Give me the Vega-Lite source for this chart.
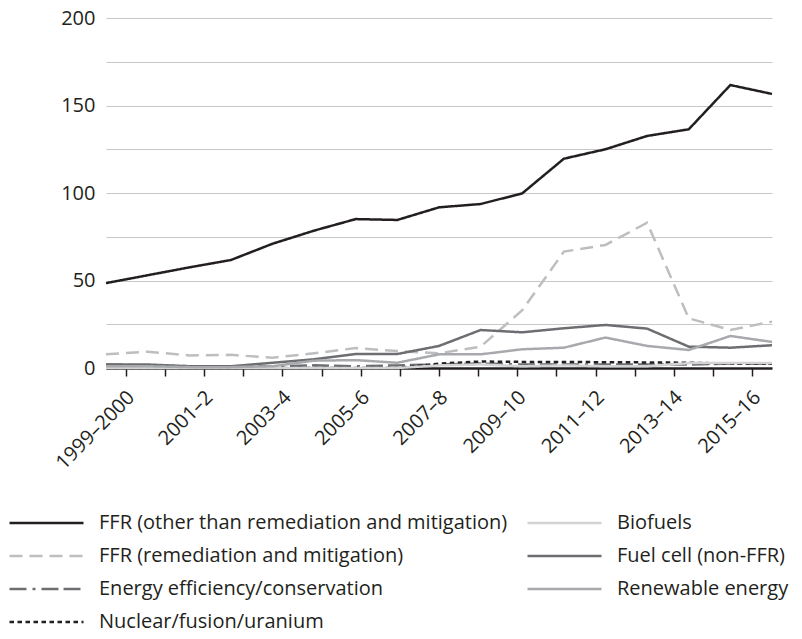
{
  "$schema": "https://vega.github.io/schema/vega-lite/v6.json",
  "width": 666,
  "height": 350,
  "autosize": "none",
  "padding": {"left": 106, "top": 18, "right": 30, "bottom": 271},
  "background": "white",
  "config": {
    "view": {"stroke": null},
    "font": "Open Sans",
    "legend": {
      "orient": "none",
      "legendX": -98,
      "legendY": 495,
      "columns": 2,
      "padding": 0,
      "symbolType": "stroke",
      "symbolSize": 5476,
      "symbolStrokeWidth": 2.5,
      "clipHeight": 20,
      "labelFontSize": 20,
      "labelFont": "Open Sans",
      "labelColor": "#231f20",
      "labelOffset": 14,
      "labelLimit": 0,
      "rowPadding": 13,
      "columnPadding": 18
    }
  },
  "data": {
    "values": [
      {"period": "1999–2000", "FFR (other than remediation and mitigation)": 48.5, "FFR (remediation and mitigation)": 7.8, "Energy efficiency/conservation": 2, "Nuclear/fusion/uranium": 0, "Biofuels": 0, "Fuel cell (non-FFR)": 2, "Renewable energy": 1},
      {"period": "2000–1", "FFR (other than remediation and mitigation)": 53, "FFR (remediation and mitigation)": 9.3, "Energy efficiency/conservation": 1.5, "Nuclear/fusion/uranium": 0, "Biofuels": 0, "Fuel cell (non-FFR)": 2, "Renewable energy": 1},
      {"period": "2001–2", "FFR (other than remediation and mitigation)": 57.5, "FFR (remediation and mitigation)": 7.2, "Energy efficiency/conservation": 1, "Nuclear/fusion/uranium": 0, "Biofuels": 0, "Fuel cell (non-FFR)": 1, "Renewable energy": 0.5},
      {"period": "2002–3", "FFR (other than remediation and mitigation)": 61.7, "FFR (remediation and mitigation)": 7.5, "Energy efficiency/conservation": 1, "Nuclear/fusion/uranium": 0, "Biofuels": 0, "Fuel cell (non-FFR)": 1, "Renewable energy": 0.5},
      {"period": "2003–4", "FFR (other than remediation and mitigation)": 71, "FFR (remediation and mitigation)": 5.9, "Energy efficiency/conservation": 1, "Nuclear/fusion/uranium": 0, "Biofuels": 0, "Fuel cell (non-FFR)": 3, "Renewable energy": 1},
      {"period": "2004–5", "FFR (other than remediation and mitigation)": 78.5, "FFR (remediation and mitigation)": 8.4, "Energy efficiency/conservation": 1.5, "Nuclear/fusion/uranium": 0, "Biofuels": 0, "Fuel cell (non-FFR)": 5, "Renewable energy": 4.2},
      {"period": "2005–6", "FFR (other than remediation and mitigation)": 85.1, "FFR (remediation and mitigation)": 11.4, "Energy efficiency/conservation": 1, "Nuclear/fusion/uranium": 0, "Biofuels": 0, "Fuel cell (non-FFR)": 8, "Renewable energy": 4.5},
      {"period": "2006–7", "FFR (other than remediation and mitigation)": 84.6, "FFR (remediation and mitigation)": 9.7, "Energy efficiency/conservation": 1.5, "Nuclear/fusion/uranium": 0, "Biofuels": 0, "Fuel cell (non-FFR)": 8, "Renewable energy": 3},
      {"period": "2007–8", "FFR (other than remediation and mitigation)": 91.8, "FFR (remediation and mitigation)": 8.4, "Energy efficiency/conservation": 2, "Nuclear/fusion/uranium": 2.5, "Biofuels": 1.5, "Fuel cell (non-FFR)": 12.6, "Renewable energy": 7.8},
      {"period": "2008–9", "FFR (other than remediation and mitigation)": 93.7, "FFR (remediation and mitigation)": 12.2, "Energy efficiency/conservation": 2.5, "Nuclear/fusion/uranium": 3.7, "Biofuels": 2, "Fuel cell (non-FFR)": 21.7, "Renewable energy": 7.8},
      {"period": "2009–10", "FFR (other than remediation and mitigation)": 99.8, "FFR (remediation and mitigation)": 33, "Energy efficiency/conservation": 2, "Nuclear/fusion/uranium": 3.5, "Biofuels": 1, "Fuel cell (non-FFR)": 20.4, "Renewable energy": 10.7},
      {"period": "2010–11", "FFR (other than remediation and mitigation)": 119.6, "FFR (remediation and mitigation)": 66.5, "Energy efficiency/conservation": 2, "Nuclear/fusion/uranium": 3.5, "Biofuels": 1.5, "Fuel cell (non-FFR)": 22.7, "Renewable energy": 11.6},
      {"period": "2011–12", "FFR (other than remediation and mitigation)": 125, "FFR (remediation and mitigation)": 70.3, "Energy efficiency/conservation": 2, "Nuclear/fusion/uranium": 3.3, "Biofuels": 1, "Fuel cell (non-FFR)": 24.6, "Renewable energy": 17.4},
      {"period": "2012–13", "FFR (other than remediation and mitigation)": 132.6, "FFR (remediation and mitigation)": 83, "Energy efficiency/conservation": 2, "Nuclear/fusion/uranium": 3.2, "Biofuels": 1, "Fuel cell (non-FFR)": 22.5, "Renewable energy": 12.6},
      {"period": "2013–14", "FFR (other than remediation and mitigation)": 136.4, "FFR (remediation and mitigation)": 28.4, "Energy efficiency/conservation": 2, "Nuclear/fusion/uranium": 3, "Biofuels": 2.8, "Fuel cell (non-FFR)": 12.2, "Renewable energy": 10.3},
      {"period": "2014–15", "FFR (other than remediation and mitigation)": 161.7, "FFR (remediation and mitigation)": 21.7, "Energy efficiency/conservation": 2.5, "Nuclear/fusion/uranium": 2.5, "Biofuels": 2.8, "Fuel cell (non-FFR)": 11.6, "Renewable energy": 18.3},
      {"period": "2015–16", "FFR (other than remediation and mitigation)": 156.6, "FFR (remediation and mitigation)": 26.5, "Energy efficiency/conservation": 2.5, "Nuclear/fusion/uranium": 2.5, "Biofuels": 2.8, "Fuel cell (non-FFR)": 13, "Renewable energy": 14.9}
    ]
  },
  "transform": [
    {"fold": ["FFR (other than remediation and mitigation)", "FFR (remediation and mitigation)", "Energy efficiency/conservation", "Nuclear/fusion/uranium", "Biofuels", "Fuel cell (non-FFR)", "Renewable energy"], "as": ["series", "value"]}
  ],
  "layer": [
    {
      "mark": {"type": "line", "strokeWidth": 2.5},
      "encoding": {
        "x": {"field": "period", "type": "ordinal", "sort": null, "scale": {"type": "point", "padding": 0}, "axis": null},
        "y": {
          "field": "value", "type": "quantitative",
          "scale": {"domain": [0, 200], "nice": false},
          "axis": {
            "values": [0, 25, 50, 75, 100, 125, 150, 175, 200],
            "labelExpr": "datum.value % 50 === 0 ? datum.label : ''",
            "title": null, "domain": false, "ticks": false, "tickSize": 0,
            "grid": true, "gridColor": "#c8c8c8", "gridWidth": 1,
            "labelPadding": 11, "labelFontSize": 20, "labelFont": "Open Sans", "labelColor": "#231f20"
          }
        },
        "color": {
          "field": "series", "type": "nominal",
          "scale": {
            "domain": ["FFR (other than remediation and mitigation)", "FFR (remediation and mitigation)", "Energy efficiency/conservation", "Nuclear/fusion/uranium", "Biofuels", "Fuel cell (non-FFR)", "Renewable energy"],
            "range": ["#231f20", "#bcbec0", "#6d6e71", "#231f20", "#d1d3d4", "#6d6e71", "#a7a9ac"]
          },
          "legend": {"title": null}
        },
        "strokeDash": {
          "field": "series", "type": "nominal",
          "scale": {
            "domain": ["FFR (other than remediation and mitigation)", "FFR (remediation and mitigation)", "Energy efficiency/conservation", "Nuclear/fusion/uranium", "Biofuels", "Fuel cell (non-FFR)", "Renewable energy"],
            "range": [[1, 0], [13, 7], [17, 6, 3, 6, 17, 5, 17, 5], [4.5, 3.5], [1, 0], [1, 0], [1, 0]]
          },
          "legend": {"title": null}
        }
      }
    },
    {
      "mark": {"type": "tick", "opacity": 0},
      "encoding": {
        "x": {
          "field": "period", "type": "ordinal", "sort": null,
          "scale": {"type": "point", "padding": 0.51},
          "axis": {
            "orient": "bottom", "title": null, "grid": false,
            "labelAngle": -45, "labelAlign": "right", "labelBaseline": "middle",
            "labelFontSize": 20, "labelFont": "Open Sans", "labelColor": "#231f20", "labelPadding": 18, "labelOffset": 5,
            "tickSize": 8, "tickWidth": 1.5, "tickColor": "#231f20",
            "domainColor": "#231f20", "domainWidth": 2.5,
            "labelExpr": "indexof(['1999–2000','2001–2','2003–4','2005–6','2007–8','2009–10','2011–12','2013–14','2015–16'], datum.value) >= 0 ? datum.value : ''"
          }
        }
      }
    }
  ],
  "resolve": {"scale": {"x": "independent"}}
}
